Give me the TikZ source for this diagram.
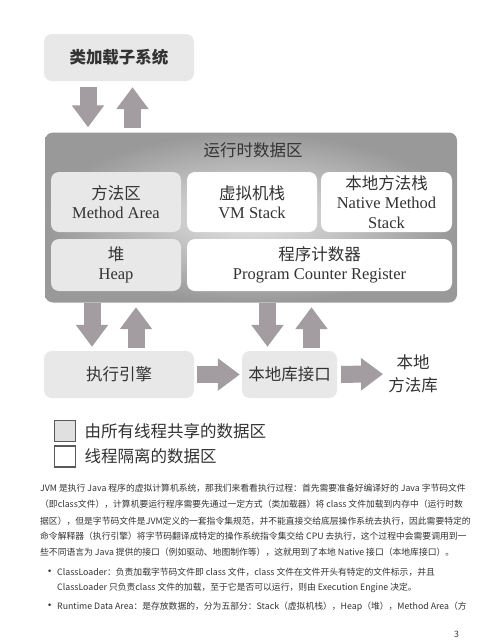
\documentclass[tikz,border=0pt]{standalone}
\usepackage{fontspec}
\setmainfont{Liberation Serif}
\newfontfamily\cjk{Noto Sans CJK SC}
\newfontfamily\dotfont{DejaVu Sans}
\usetikzlibrary{arrows.meta}
\definecolor{arrowgray}{HTML}{A39DA1}
\definecolor{inkgray}{HTML}{333333}

\begin{document}
\begin{tikzpicture}[x=1pt, y=-1pt,
    box/.style={rounded corners=8pt, inner sep=0pt, align=center, text=inkgray,
        font=\fontsize{16.5}{19.5}\selectfont},
    shared/.style={box, fill=black!9},
    private/.style={box, fill=white},
    fat/.style={draw=arrowgray, line width=17pt, -{Triangle[width=31pt, length=22pt]}},
    para/.style={anchor=west, inner sep=0pt, text=inkgray, font=\cjk\fontsize{8.8}{10}\selectfont}]
    \useasboundingbox[fill=white] (0,0) rectangle (500,641);

    % Class loader
    \node[shared, minimum width=150pt, minimum height=47pt, font=\cjk\bfseries\fontsize{16.5}{19.5}\selectfont] (loader) at (119,57.5) {类加载子系统};

    % Runtime data area
    \node[box, minimum width=412pt, minimum height=170pt, inner color=black!10, outer color=black!40] (rda) at (251,217.5) {};
    \node[text=inkgray, font=\cjk\fontsize{16.5}{19.5}\selectfont] (rdatitle) at (253,150) {运行时数据区};
    \node[shared, minimum width=130pt, minimum height=60pt] (method) at (116,202) {{\cjk 方法区}\\Method Area};
    \node[private, minimum width=130pt, minimum height=60pt] (vmstack) at (252,202) {{\cjk 虚拟机栈}\\VM Stack};
    \node[private, minimum width=131pt, minimum height=60pt] (native) at (386.5,202) {{\cjk 本地方法栈}\\Native Method\\Stack};
    \node[shared, minimum width=130pt, minimum height=52pt] (heap) at (116,265) {{\cjk 堆}\\Heap};
    \node[private, minimum width=265pt, minimum height=52pt] (pc) at (319.5,265) {{\cjk 程序计数器}\\Program Counter Register};

    % Execution engine and native interface
    \node[shared, minimum width=150pt, minimum height=47pt, font=\cjk\fontsize{16.5}{19.5}\selectfont] (engine) at (119,374.5) {执行引擎};
    \node[shared, minimum width=95pt, minimum height=47pt, font=\cjk\fontsize{16.5}{19.5}\selectfont] (interface) at (289.5,374.5) {本地库接口};
    \node[inner sep=0pt, align=center, text=inkgray, font=\cjk\fontsize{16.5}{23}\selectfont] (library) at (413,374) {本地\\方法库};

    % Block arrows
    \coordinate (l1) at ([xshift=-31pt]loader.south);
    \coordinate (l2) at ([xshift=13.5pt]loader.south);
    \draw[fat, shorten <=6pt, shorten >=5pt] (l1) -- (l1 |- rda.north);
    \draw[fat, shorten <=4.5pt, shorten >=6pt] (l2 |- rda.north) -- (l2);
    \coordinate (e1) at ([xshift=-27pt]engine.north);
    \coordinate (e2) at ([xshift=17pt]engine.north);
    \draw[fat, shorten >=4pt] (e1 |- rda.south) -- (e1);
    \draw[fat, shorten <=3pt, shorten >=4.5pt] (e2) -- (e2 |- rda.south);
    \coordinate (i1) at ([xshift=-22pt]interface.north);
    \coordinate (i2) at ([xshift=22pt]interface.north);
    \draw[fat, shorten >=4pt] (i1 |- rda.south) -- (i1);
    \draw[fat, shorten <=3pt, shorten >=4.5pt] (i2) -- (i2 |- rda.south);
    \draw[fat, shorten <=3pt, shorten >=2pt] (engine) -- (interface);
    \draw[fat, shorten <=4pt, shorten >=5pt] (interface) -- (library);

    % Legend
    \node[draw=black!65, line width=1.1pt, fill=black!12, minimum size=21pt, inner sep=0pt] (sharedkey) at (65,431) {};
    \node[draw=black!65, line width=1.1pt, fill=white, minimum size=21pt, inner sep=0pt] (privatekey) at (65,456.5) {};
    \node[anchor=west, text=inkgray, font=\cjk\fontsize{16.5}{19.5}\selectfont] (sharedtext) at ([xshift=5pt]sharedkey.east) {由所有线程共享的数据区};
    \node[anchor=west, text=inkgray, font=\cjk\fontsize{16.5}{19.5}\selectfont] (privatetext) at ([xshift=5pt]privatekey.east) {线程隔离的数据区};

    % Text below
    \node[para] (p1) at (40,488.3) {JVM 是执行 Java 程序的虚拟计算机系统，那我们来看看执行过程：首先需要准备好编译好的 Java 字节码文件};
    \node[para] (p2) at (40,504.3) {（即class文件），计算机要运行程序需要先通过一定方式（类加载器）将 class 文件加载到内存中（运行时数};
    \node[para] (p3) at (40,520.7) {据区），但是字节码文件是JVM定义的一套指令集规范，并不能直接交给底层操作系统去执行，因此需要特定的};
    \node[para] (p4) at (40,536.3) {命令解释器（执行引擎）将字节码翻译成特定的操作系统指令集交给 CPU 去执行，这个过程中会需要调用到一};
    \node[para] (p5) at (40,551.7) {些不同语言为 Java 提供的接口（例如驱动、地图制作等），这就用到了本地 Native 接口（本地库接口）。};
    \node[para, font=\dotfont\fontsize{8.8}{10}\selectfont] (b1dot) at (47,572.7) {•};
    \node[para] (b1) at (57,572.7) {ClassLoader：负责加载字节码文件即 class 文件，class 文件在文件开头有特定的文件标示，并且};
    \node[para] (b1b) at (57,588.3) {ClassLoader 只负责class 文件的加载，至于它是否可以运行，则由 Execution Engine 决定。};
    \node[para, font=\dotfont\fontsize{8.8}{10}\selectfont] (b2dot) at (47,606.7) {•};
    \node[para] (b2) at (57,606.7) {Runtime Data Area：是存放数据的，分为五部分：Stack（虚拟机栈），Heap（堆），Method Area（方};
    \node[para] (page) at (454,634) {3};
\end{tikzpicture}
\end{document}
